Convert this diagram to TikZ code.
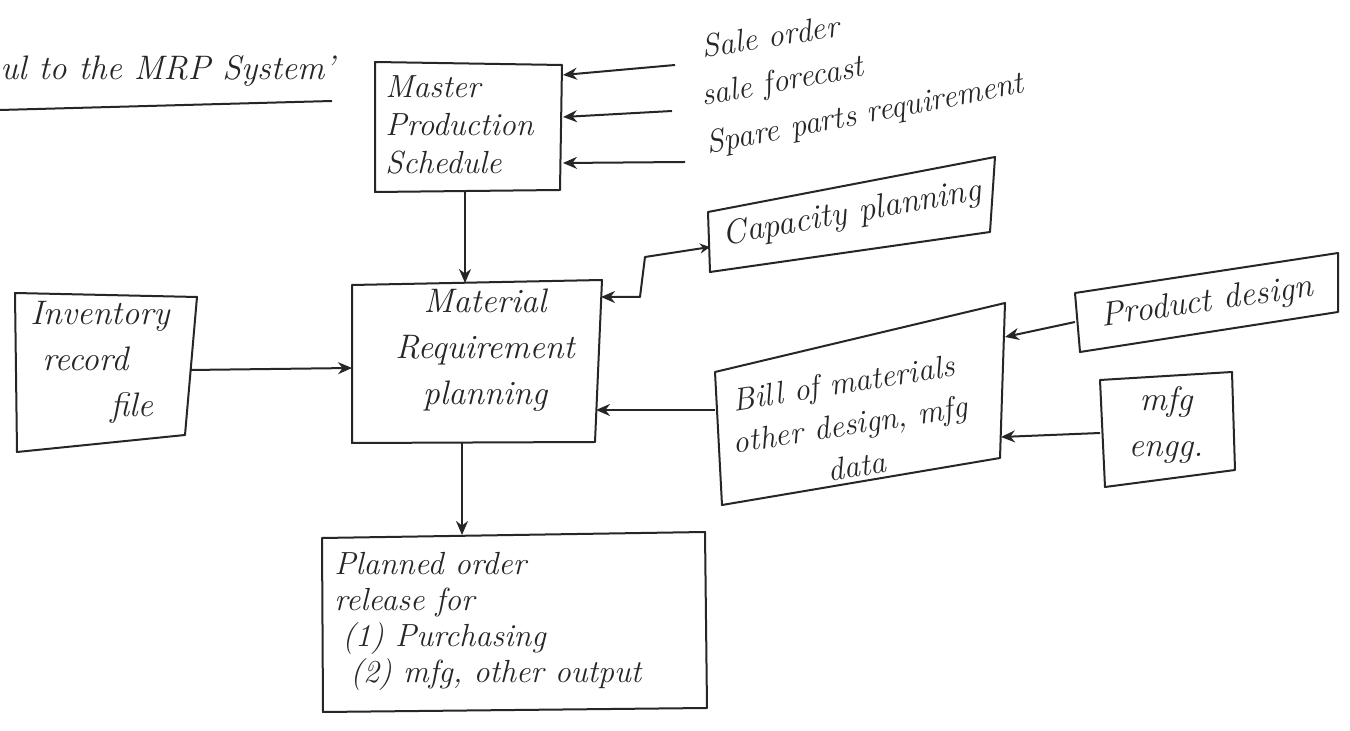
\documentclass[tikz,border=0pt]{standalone}
\usetikzlibrary{arrows.meta}
\begin{document}
\begin{tikzpicture}[x=0.5pt,y=-0.5pt,
  ink/.style={draw=black!85, line width=1pt, line join=round},
  arr/.style={ink, -{Stealth[length=7pt,width=6pt]}},
  dblarr/.style={ink, {Stealth[length=7pt,width=6pt]}-{Stealth[length=5pt,width=5pt]}},
  txt/.style={font=\fontsize{17}{23}\selectfont\itshape, text=black!85, inner sep=0pt},
  smalltxt/.style={font=\fontsize{16}{19}\selectfont\itshape, text=black!85, inner sep=0pt},
  inlabel/.style={font=\fontsize{16}{19}\selectfont\itshape, text=black!85, inner sep=0pt, anchor=base west}]
\fill[white] (0,0) rectangle (1350,731);
\useasboundingbox (0,0) rectangle (1350,731);

% heading
\node[txt, anchor=base west] (title) at (0,80) {ul to the MRP System'};
\coordinate (ulA) at (0,110);
\coordinate (ulB) at (332,101);
\draw[ink] (ulA) -- (ulB);

% Master production schedule
\draw[ink] (375,62) -- (562,65) -- (560,190) -- (375,192) -- cycle;
\node[smalltxt, align=left, anchor=west] (mps) at (385,125) {Master\\Production\\Schedule};
\coordinate (mpsS) at (465,190);
\coordinate (mpsE1) at (563,75);
\coordinate (mpsE2) at (563,117);
\coordinate (mpsE3) at (563,163);

% inputs to the schedule
\node[inlabel, rotate=9] (so) at (703,58) {Sale order};
\node[inlabel, rotate=10.5] (sf) at (703,106) {sale forecast};
\node[inlabel, rotate=11] (sp) at (708,154) {Spare parts requirement};
\coordinate (soS) at (675,65);
\coordinate (sfS) at (672,111);
\coordinate (spS) at (685,162);
\draw[arr] (soS) -- (mpsE1);
\draw[arr] (sfS) -- (mpsE2);
\draw[arr] (spS) -- (mpsE3);

% capacity planning
\draw[ink] (708,212) -- (995,157) -- (990,232) -- (710,272) -- cycle;
\node[txt, rotate=10] (cap) at (852,214) {Capacity planning};
\coordinate (capW) at (710,247);

% material requirement planning
\draw[ink] (352,285) -- (602,280) -- (595,442) -- (352,443) -- cycle;
\node[txt, align=center] (mrp) at (485,350) {Material\\Requirement\\planning};
\coordinate (mrpN) at (465,283);
\coordinate (mrpW) at (352,368);
\coordinate (mrpE1) at (601,297);
\coordinate (mrpE2) at (596,410);
\coordinate (mrpS) at (462,443);
\coordinate (capBend1) at (640,297);
\coordinate (capBend2) at (645,257);

\draw[arr] (mpsS) -- (mrpN);
\draw[dblarr] (mrpE1) -- (capBend1) -- (capBend2) -- (capW);

% inventory record file
\draw[ink] (15,293) -- (197,297) -- (185,435) -- (17,452) -- cycle;
\node[txt, align=left, anchor=west] (inv) at (30,362) {Inventory\\\hspace{6pt}record\\\hspace{40pt}file};
\coordinate (invE) at (190,370);
\draw[arr] (invE) -- (mrpW);

% bill of materials
\draw[ink] (715,372) -- (1005,303) -- (1000,458) -- (722,505) -- cycle;
\node[font=\fontsize{16}{21}\selectfont\itshape, text=black!85, inner sep=0pt,
      align=center, rotate=9] (bom) at (850,424) {Bill of materials\\other design, mfg\\data};
\coordinate (bomW) at (715,410);
\coordinate (bomE1) at (1005,337);
\coordinate (bomE2) at (1001,437);
\draw[arr] (bomW) -- (mrpE2);

% product design
\draw[ink] (1075,293) -- (1338,253) -- (1338,312) -- (1080,352) -- cycle;
\node[txt, rotate=8] (pd) at (1207,303) {Product design};
\coordinate (pdW) at (1075,322);
\draw[arr] (pdW) -- (bomE1);

% manufacturing engineering
\draw[ink] (1100,380) -- (1232,372) -- (1235,470) -- (1105,487) -- cycle;
\node[txt, align=center] (eng) at (1166,425) {mfg\\engg.};
\coordinate (engW) at (1100,433);
\draw[arr] (engW) -- (bomE2);

% planned order release
\draw[ink] (322,538) -- (705,532) -- (707,708) -- (323,712) -- cycle;
\node[font=\fontsize{16}{18}\selectfont\itshape, text=black!85, inner sep=0pt,
      align=left, anchor=north west] (por) at (334,552)
  {Planned order\\release for\\\hspace{4pt}(1) Purchasing\\\hspace{8pt}(2) mfg, other output};
\coordinate (porN) at (462,535);
\draw[arr] (mrpS) -- (porN);
\end{tikzpicture}
\end{document}
